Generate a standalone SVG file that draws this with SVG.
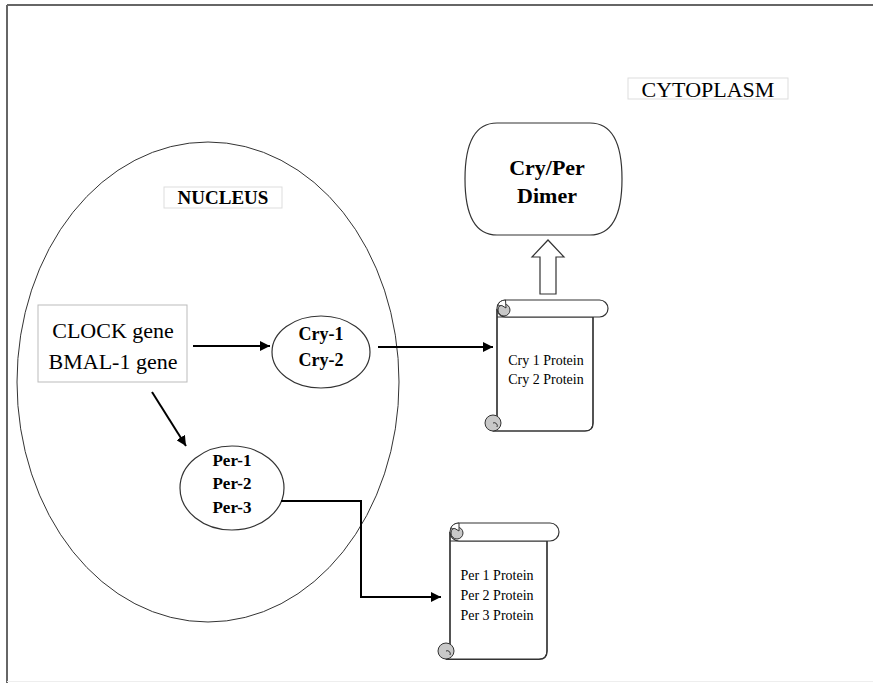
<svg xmlns="http://www.w3.org/2000/svg" width="873" height="683" viewBox="0 0 873 683">
<defs>
<style>
.ser{font-family:"Liberation Serif","Times New Roman",serif;fill:#000;text-anchor:middle}
.b{font-weight:bold}
.shape{fill:#fff;stroke:#333;stroke-width:1.2}
.lbl{fill:#fff;stroke:#ddd;stroke-width:1}
.conn{fill:none;stroke:#000;stroke-width:2}
.curl{fill:#c8c8c8;stroke:#333;stroke-width:1}
</style>
<marker id="ah" viewBox="0 0 10 10" refX="10" refY="5" markerWidth="5" markerHeight="5" orient="auto" markerUnits="strokeWidth">
<path d="M0,0 L10,5 L0,10 z" fill="#000"/>
</marker>
</defs>
<rect width="873" height="683" fill="#fff"/>
<g id="frame">
<line x1="7" y1="5" x2="873" y2="5" stroke="#666" stroke-width="2"/>
<line x1="7" y1="5" x2="7" y2="683" stroke="#666" stroke-width="2"/>
<line x1="7" y1="681.5" x2="873" y2="681.5" stroke="#eee" stroke-width="1"/>
</g>
<g id="cytoplasm-label">
<rect class="lbl" x="628" y="78" width="160" height="21"/>
<text class="ser" x="708" y="97" font-size="22">CYTOPLASM</text>
</g>
<g id="nucleus">
<ellipse cx="208" cy="382" rx="191" ry="240" fill="none" stroke="#333" stroke-width="1"/>
</g>
<g id="nucleus-label">
<rect class="lbl" x="164" y="187" width="118" height="21"/>
<text class="ser b" x="223" y="204" font-size="19">NUCLEUS</text>
</g>
<g id="clock">
<rect x="38" y="305" width="149" height="77" fill="#fff" stroke="#bbb" stroke-width="1"/>
<text class="ser" x="113" y="338" font-size="22">CLOCK gene</text>
<text class="ser" x="113" y="369" font-size="22">BMAL-1 gene</text>
</g>
<g id="cry">
<ellipse class="shape" cx="321" cy="352" rx="49" ry="36"/>
<text class="ser b" x="321" y="340" font-size="18">Cry-1</text>
<text class="ser b" x="321" y="366" font-size="18">Cry-2</text>
</g>
<g id="per">
<ellipse class="shape" cx="232" cy="488" rx="52" ry="42"/>
<text class="ser b" x="232" y="466" font-size="17">Per-1</text>
<text class="ser b" x="232" y="489" font-size="17">Per-2</text>
<text class="ser b" x="232" y="513" font-size="17">Per-3</text>
</g>
<g id="dimer">
<path class="shape" d="M497,123 H590 Q622,123 622,179 Q622,235 590,235 H497 Q465,235 465,179 Q465,123 497,123 Z"/>
<text class="ser b" x="547" y="175" font-size="22">Cry/Per</text>
<text class="ser b" x="547" y="203" font-size="22">Dimer</text>
</g>
<g id="scroll-cry">
<path class="shape" d="M497,309 V423 A8,8 0 0 0 493,431 H585 Q593,431 593,423 V317 H497 Z" stroke="none"/>
<path fill="none" stroke="#333" stroke-width="1.2" d="M497,309 V423 M493,431 H585 Q593,431 593,423 V317"/>
<rect class="shape" x="497" y="300" width="111" height="17" rx="8.5"/>
<circle class="curl" cx="504" cy="310" r="6"/>
<path fill="#fff" stroke="#333" stroke-width="1" d="M505.5,300 A8.5,8.5 0 0 0 497.5,306 Q502,304 506,308 Z"/>
<circle class="curl" cx="493" cy="423" r="8"/>
<path fill="none" stroke="#333" stroke-width="1" d="M493,423 A3,3 0 0 1 497,427"/>
<text class="ser" x="546" y="365" font-size="14">Cry 1 Protein</text>
<text class="ser" x="546" y="384" font-size="14">Cry 2 Protein</text>
</g>
<g id="scroll-per">
<path class="shape" d="M450,532 V651 A8,8 0 0 0 446,659 H539 Q547,659 547,651 V541 H450 Z" stroke="none"/>
<path fill="none" stroke="#333" stroke-width="1.2" d="M450,532 V651 M446,659.5 H539 Q547,659.5 547,651 V541"/>
<rect class="shape" x="450" y="523" width="109" height="18" rx="9"/>
<circle class="curl" cx="457" cy="533" r="6"/>
<path fill="#fff" stroke="#333" stroke-width="1" d="M459,523 A9,9 0 0 0 450.5,529 Q455,527 459,531 Z"/>
<circle class="curl" cx="446" cy="651" r="8"/>
<path fill="none" stroke="#333" stroke-width="1" d="M446,651 A3,3 0 0 1 450,655"/>
<text class="ser" x="497" y="580" font-size="14">Per 1 Protein</text>
<text class="ser" x="497" y="600" font-size="14">Per 2 Protein</text>
<text class="ser" x="497" y="620" font-size="14">Per 3 Protein</text>
</g>
<g id="connectors">
<line class="conn" x1="193" y1="346" x2="270" y2="346" marker-end="url(#ah)"/>
<line class="conn" x1="152" y1="392" x2="186" y2="446" marker-end="url(#ah)"/>
<line class="conn" x1="378" y1="347" x2="493" y2="347" marker-end="url(#ah)"/>
<polyline class="conn" points="281,501 361,501 361,597 441,597" marker-end="url(#ah)"/>
<path d="M540,294 V257 H532 L548,240 L564,257 H556 V294 Z" fill="#fff" stroke="#333" stroke-width="1.2"/>
</g>
</svg>
